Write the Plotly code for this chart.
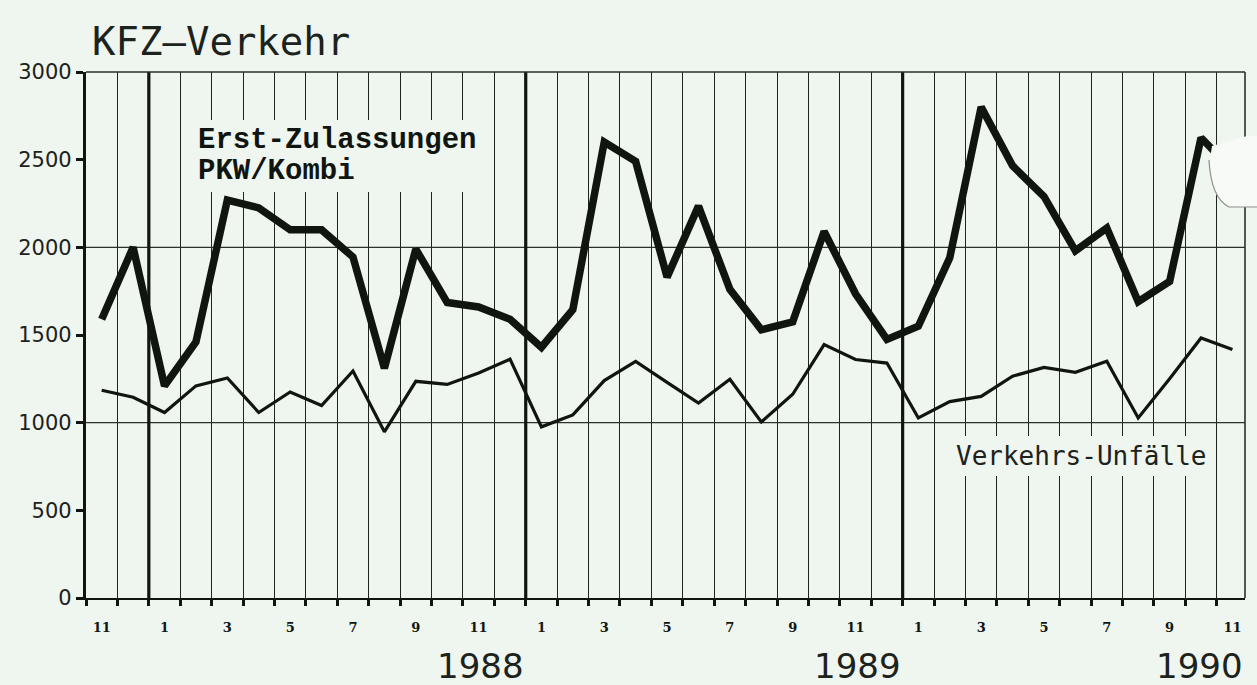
import plotly.graph_objects as go

# ---------------- data ----------------
YEARS = [1987, 1987] + [1988] * 12 + [1989] * 12 + [1990] * 11
MONTHS = [11, 12] + list(range(1, 13)) + list(range(1, 13)) + list(range(1, 12))

# Erst-Zulassungen PKW/Kombi (thick line)
ZULASSUNGEN = [1590, 2000, 1210, 1460, 2270, 2225, 2100, 2100, 1945, 1310,
               1990, 1685, 1660, 1590, 1430, 1645, 2600, 2490, 1830, 2235,
               1760, 1530, 1575, 2090, 1735, 1475, 1550, 1940, 2800, 2465,
               2290, 1980, 2110, 1690, 1805, 2625, 2440]

# Verkehrs-Unfälle (thin line)
UNFAELLE = [1185, 1145, 1058, 1210, 1255, 1058, 1175, 1098, 1295, 948,
            1236, 1218, 1283, 1362, 976, 1044, 1240, 1350, 1230, 1112,
            1248, 1004, 1162, 1445, 1360, 1340, 1027, 1120, 1150, 1265,
            1315, 1287, 1350, 1027, 1250, 1483, 1417]

Y_TICKS = [0, 500, 1000, 1500, 2000, 2500, 3000]
Y_GRID = [1000, 2000]
Y_MAX = 3000

TITLE = "KFZ–Verkehr"
LABEL_ZUL_1 = "Erst-Zulassungen"
LABEL_ZUL_2 = "PKW/Kombi"
LABEL_UNF = "Verkehrs-Unfälle"

# ---------------- styling ----------------
BG = "#eff5ef"
INK = "#101510"
TXT = "#1c221c"
W, H = 1257, 685
L, R, T, B = 86, 12, 72, 87
PW, PH = W - L - R, H - T - B
N = len(MONTHS)
X0, X1 = -0.5, N - 0.6   # last month slightly cut at the frame, as in the original


def px_x(px):
    return (px - L) / PW


def px_y(py):
    return (H - B - py) / PH


def dx(px):  # pixel -> data x
    return X0 + px_x(px) * (X1 - X0)


def dy(py):  # pixel -> data y
    return px_y(py) * Y_MAX


idx = list(range(N))
tick_idx = [i for i in idx if MONTHS[i] % 2 == 1]
tick_txt = [str(MONTHS[i]) for i in tick_idx]
year_starts = [i - 0.5 for i in idx if MONTHS[i] == 1]
year_ends = year_starts[1:] + [X1]
year_names = [str(YEARS[int(s + 0.5)]) for s in year_starts]

fig = go.Figure()
fig.add_trace(go.Scatter(x=idx, y=UNFAELLE, mode="lines",
                         line=dict(color=INK, width=3.2), showlegend=False,
                         name="Verkehrs-Unfälle"))
fig.add_trace(go.Scatter(x=idx, y=ZULASSUNGEN, mode="lines",
                         line=dict(color=INK, width=7.5), showlegend=False,
                         name="Erst-Zulassungen PKW/Kombi"))

shapes = []
# horizontal grid lines
for g in Y_GRID:
    shapes.append(dict(type="line", xref="x", yref="y", x0=X0, x1=X1, y0=g, y1=g,
                       line=dict(color="#2a302a", width=1.4), layer="between"))
# year separators
for s in year_starts:
    shapes.append(dict(type="line", xref="x", yref="y", x0=s, x1=s, y0=0, y1=Y_MAX,
                       line=dict(color=INK, width=3.2), layer="between"))
# label backgrounds (interrupt the grid)
for (x0, x1, y0, y1) in [(190, 487, 120, 192), (944, 1212, 436, 476)]:
    shapes.append(dict(type="rect", xref="x", yref="y",
                       x0=dx(x0), x1=dx(x1), y0=dy(y1), y1=dy(y0),
                       fillcolor=BG, line=dict(width=0), layer="between"))
# top and right border
shapes.append(dict(type="line", xref="paper", yref="paper", x0=0, x1=1, y0=1, y1=1,
                   line=dict(color="#2a302a", width=1.6)))
shapes.append(dict(type="line", xref="paper", yref="paper", x0=1, x1=1, y0=0, y1=1,
                   line=dict(color="#2a302a", width=1.6)))

# scan blemish at top right (white patch)
blob = (f"M {px_x(1212)},{px_y(146)} L {px_x(1247)},{px_y(136)} L {px_x(1258)},{px_y(136)} "
        f"L {px_x(1258)},{px_y(207)} L {px_x(1229)},{px_y(207)} "
        f"Q {px_x(1211)},{px_y(198)} {px_x(1209)},{px_y(166)} Z")
shapes.append(dict(type="path", xref="paper", yref="paper", path=blob,
                   fillcolor="#f7faf6", line=dict(width=0), layer="above"))
edge = (f"M {px_x(1209)},{px_y(160)} Q {px_x(1211)},{px_y(198)} {px_x(1229)},{px_y(207)} "
        f"L {px_x(1258)},{px_y(207)}")
shapes.append(dict(type="path", xref="paper", yref="paper", path=edge,
                   line=dict(color="#8a908a", width=1.2), layer="above"))

annotations = [
    dict(text=TITLE, xref="paper", yref="paper", x=px_x(90), y=px_y(41),
         xanchor="left", yanchor="middle", showarrow=False,
         font=dict(family="DejaVu Sans Mono", size=39, color=TXT)),
    dict(text=LABEL_ZUL_1, xref="paper", yref="paper", x=px_x(196), y=px_y(141),
         xanchor="left", yanchor="middle", showarrow=False,
         font=dict(family="Liberation Mono", size=29, color=INK, weight="bold")),
    dict(text=LABEL_ZUL_2, xref="paper", yref="paper", x=px_x(196), y=px_y(171),
         xanchor="left", yanchor="middle", showarrow=False,
         font=dict(family="Liberation Mono", size=29, color=INK, weight="bold")),
    dict(text=LABEL_UNF, xref="paper", yref="paper", x=px_x(1081), y=px_y(456),
         xanchor="center", yanchor="middle", showarrow=False,
         font=dict(family="DejaVu Sans Mono", size=26, color=TXT)),
]
for name, end in zip(year_names, year_ends):
    annotations.append(dict(text=name, xref="x", yref="paper", x=end, y=px_y(666),
                            xanchor="right", yanchor="middle", showarrow=False,
                            font=dict(family="DejaVu Sans", size=34, color=TXT)))

fig.update_layout(
    width=W, height=H,
    margin=dict(l=L, r=R, t=T, b=B, pad=0),
    paper_bgcolor=BG, plot_bgcolor=BG,
    shapes=shapes, annotations=annotations,
    xaxis=dict(range=[X0, X1], tickmode="array",
               tickvals=tick_idx, ticktext=tick_txt, ticks="",
               showgrid=False, zeroline=False,
               showline=True, linecolor=INK, linewidth=2.2,
               ticklabelstandoff=16,
               tickfont=dict(family="DejaVu Serif", size=13, color=INK, weight="bold"),
               minor=dict(tick0=-0.5, dtick=1, showgrid=True, gridcolor="#1e241e",
                          gridwidth=1.4, ticks="outside", ticklen=6, tickwidth=2.5,
                          tickcolor=INK)),
    yaxis=dict(range=[0, Y_MAX], tickmode="array", tickvals=Y_TICKS,
               ticks="outside", ticklen=7, tickwidth=2.5, tickcolor=INK,
               showgrid=False, zeroline=False,
               showline=True, linecolor=INK, linewidth=3.2,
               tickfont=dict(family="DejaVu Sans", size=21, color=TXT)),
)

fig.write_html("out.html", config={"displayModeBar": False},
               post_script="document.body.style.margin='0';document.body.style.overflow='hidden';")
